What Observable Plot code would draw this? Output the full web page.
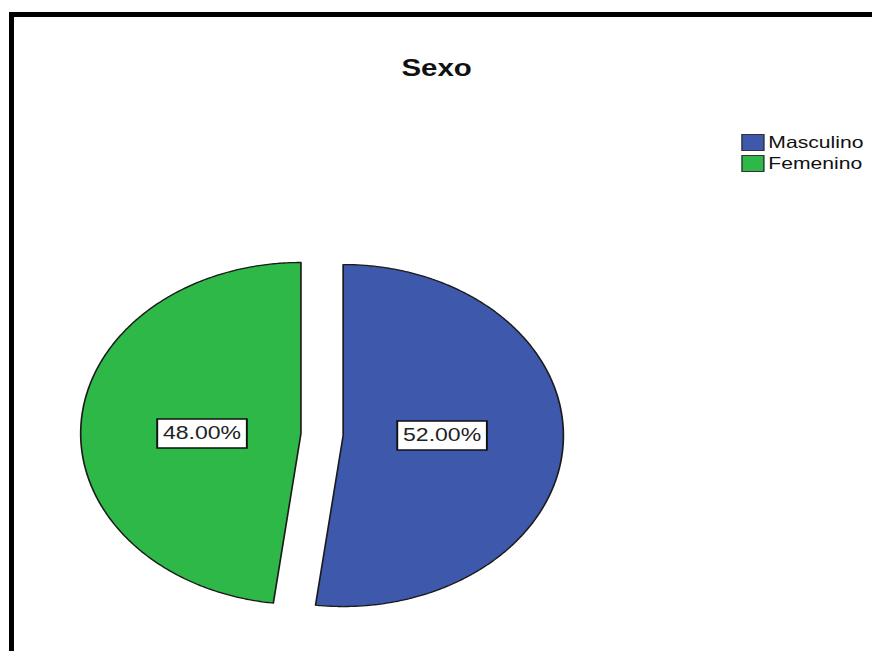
<!DOCTYPE html>
<html>
<head>
<meta charset="utf-8">
<script src="https://cdn.jsdelivr.net/npm/d3@7"></script>
<script src="https://cdn.jsdelivr.net/npm/@observablehq/plot@0.6"></script>
<style>
  html, body { margin: 0; padding: 0; background: #fff; overflow: hidden; width: 872px; height: 651px; }
  #frame { position: absolute; left: 9px; top: 12px; width: 1000px; height: 1000px;
           border-left: 5px solid #000; border-top: 5px solid #000; box-sizing: border-box; }
  #stage { position: absolute; left: 0; top: 0; width: 681px; height: 651px;
           transform: scaleX(1.2805); transform-origin: 0 0;
           font-family: "Liberation Sans", Arial, sans-serif; }
  #title { position: absolute; left: 241px; width: 200px; top: 56.5px; text-align: center;
           font-size: 23px; line-height: 23px; font-weight: bold; color: #111; }
  #legend { position: absolute; left: 579px; top: 134px; }
  .row { display: flex; align-items: center; height: 17px; margin-bottom: 4px; }
  .sw { width: 18px; height: 17px; box-sizing: border-box; border: 1px solid #333; margin-right: 3px; }
  .lt { font-size: 16.5px; line-height: 17px; color: #111; }
  #chart { position: absolute; left: 0; top: 0; }
</style>
</head>
<body>
<div id="frame"></div>
<div id="stage">
  <div id="chart"></div>
  <div id="title"></div>
  <div id="legend"></div>
</div>
<script>
const title = "Sexo";
const categories = ["Masculino", "Femenino"];
const values = [52, 48];
const labelTexts = ["52.00%", "48.00%"];
const colors = ["#3e58ac", "#2eb848"];

const rows = categories.map((c, i) => ({cat: c, value: values[i], color: colors[i], label: labelTexts[i]}));

const explode = 0.096;
const labelR = 0.45;

const arcs = d3.pie().sort(null).value(d => d.value)(rows);

const slices = arcs.map(a => {
  const mid = (a.startAngle + a.endAngle) / 2;
  const ox = explode * Math.sin(mid), oy = explode * Math.cos(mid);
  const pts = [{x: ox, y: oy}];
  const n = Math.ceil((a.endAngle - a.startAngle) / (Math.PI / 360));
  for (let j = 0; j <= n; j++) {
    const t = a.startAngle + (a.endAngle - a.startAngle) * j / n;
    pts.push({x: ox + Math.sin(t), y: oy + Math.cos(t)});
  }
  pts.push({x: ox, y: oy});
  return {pts, color: a.data.color, lx: (explode + labelR) * Math.sin(mid), ly: oy, label: a.data.label};
});

const boxSymbol = {
  draw(c) {
    c.moveTo(-35, -14.5); c.lineTo(35, -14.5); c.lineTo(35, 14.5); c.lineTo(-35, 14.5); c.closePath();
  }
};

const chart = Plot.plot({
  width: 681,
  height: 651,
  marginLeft: 79,
  marginRight: 258,
  marginTop: 263,
  marginBottom: 46,
  style: {background: "transparent", overflow: "visible"},
  x: {domain: [-1, 1], axis: null},
  y: {domain: [-1, 1], axis: null},
  marks: [
    ...slices.map(s => Plot.line(s.pts, {x: "x", y: "y", fill: s.color, stroke: "#1b1b1b", strokeWidth: 1.3, strokeLinejoin: "round"})),
    Plot.dot(slices, {x: "lx", y: "ly", symbol: boxSymbol, fill: "white", stroke: "#111", strokeWidth: 1.5}),
    Plot.text(slices, {x: "lx", y: "ly", text: "label", fontSize: 18, fontFamily: "Liberation Sans, Arial, sans-serif", fill: "#222"})
  ]
});
document.getElementById("chart").appendChild(chart);

document.getElementById("title").textContent = title;
const legend = document.getElementById("legend");
categories.forEach((c, i) => {
  const row = document.createElement("div");
  row.className = "row";
  const sw = document.createElement("div");
  sw.className = "sw";
  sw.style.background = colors[i];
  const lt = document.createElement("span");
  lt.className = "lt";
  lt.textContent = c;
  row.appendChild(sw);
  row.appendChild(lt);
  legend.appendChild(row);
});
</script>
</body>
</html>
